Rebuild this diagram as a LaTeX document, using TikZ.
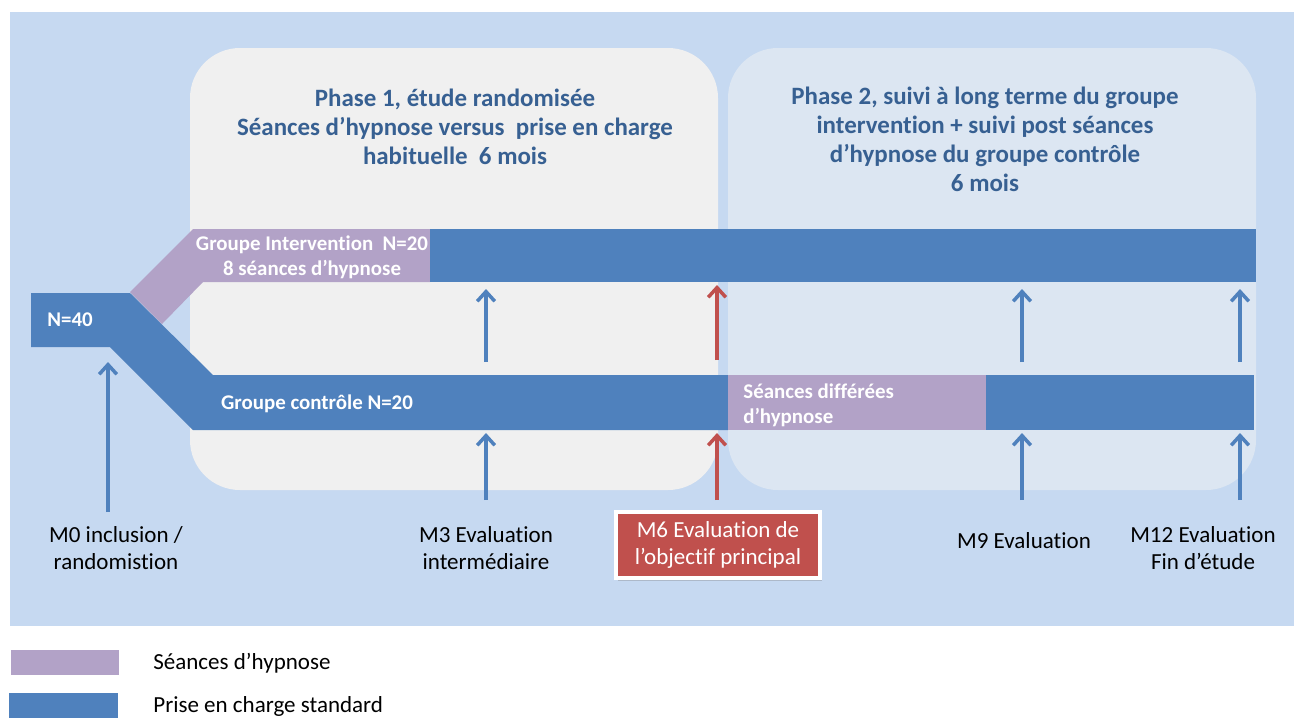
\documentclass[tikz,border=0pt]{standalone}
\usepackage{fontspec}
\setmainfont{Carlito}[Ligatures=NoCommon]
\usetikzlibrary{arrows.meta,shadows}
\definecolor{bgblue}{HTML}{C6D9F1}
\definecolor{phaseone}{HTML}{F0F0F0}
\definecolor{phasetwo}{HTML}{DCE6F2}
\definecolor{stdblue}{HTML}{4F81BD}
\definecolor{hypno}{HTML}{B2A2C7}
\definecolor{evalred}{HTML}{C0504D}
\definecolor{titleblue}{HTML}{376092}

\tikzstyle{phase panel}=[rounded corners=1cm]
\tikzstyle{band text}=[text=white,inner sep=0pt,font=\bfseries\fontsize{11.9}{14.2}\selectfont]
\tikzstyle{phase title}=[text=titleblue,align=center,font=\bfseries\fontsize{14.2}{16.5}\selectfont]
\tikzstyle{visit label}=[align=center,inner sep=0pt,font=\fontsize{13.1}{15.3}\selectfont]
\tikzstyle{visit arrow}=[draw=stdblue,line width=2pt,-{Straight Barb[length=5.5pt,width=10pt]}]
\tikzstyle{main arrow}=[visit arrow,draw=evalred]

\begin{document}
\begin{tikzpicture}[x=0.02cm,y=-0.02cm]
    \useasboundingbox (0,0) rectangle (1294,718);
    \fill[bgblue] (10,12) rectangle (1294,626);
    \fill[phaseone,phase panel] (190,48) rectangle (718,490);
    \fill[phasetwo,phase panel] (728,48) rectangle (1256,490);
    \node[phase title] (phase1) at (455,127)
        {Phase 1, étude randomisée\\Séances d’hypnose versus~ prise en charge\\habituelle~ 6 mois};
    \node[phase title] (phase2) at (985,139)
        {Phase 2, suivi à long terme du groupe\\intervention + suivi post séances\\d’hypnose du groupe contrôle\\6 mois};
    % bands
    \fill[stdblue] (31,293) -- (130,293) -- (213,375) -- (728,375) -- (728,430)
        -- (193,430) -- (110,347) -- (31,347) -- cycle;
    \fill[hypno] (728,375) rectangle (986,430);
    \fill[stdblue] (986,375) rectangle (1254,430);
    \fill[hypno] (130,292) -- (193,229) -- (430,229) -- (430,282) -- (203,282)
        -- (162,324) -- cycle;
    \fill[stdblue] (430,229) rectangle (1256,282);
    \node[band text] (n40) at (70,320) {N=40};
    \node[band text,align=center] (interv) at (312,257) {Groupe Intervention~ N=20\\8 séances d’hypnose};
    \node[band text] (ctrl) at (317,404) {Groupe contrôle N=20};
    \node[band text,align=left,anchor=west] (differ) at (743,405) {Séances différées\\d’hypnose};
    % visits
    \foreach \x/\name in {486/m3, 1022/m9, 1240/m12} {
        \coordinate (\name-a) at (\x,362);
        \coordinate (\name-b) at (\x,289);
        \coordinate (\name-c) at (\x,500);
        \coordinate (\name-d) at (\x,433);
        \path[visit arrow] (\name-a) -- (\name-b);
        \path[visit arrow] (\name-c) -- (\name-d);
    }
    \coordinate (m0-c) at (108,512);
    \coordinate (m0-d) at (108,362);
    \path[visit arrow] (m0-c) -- (m0-d);
    \coordinate (m6-a) at (717,360);
    \coordinate (m6-b) at (717,285);
    \coordinate (m6-c) at (717,500);
    \coordinate (m6-d) at (717,433);
    \path[main arrow] (m6-a) -- (m6-b);
    \path[main arrow] (m6-c) -- (m6-d);
    \node[visit label] (m0) at (116,548) {M0 inclusion /\\randomistion};
    \node[visit label] (m3) at (486,548) {M3 Evaluation\\intermédiaire};
    \node[visit label,fill=evalred,text=white,draw=white,line width=2pt,
        minimum width=4.08cm,minimum height=1.32cm,
        drop shadow={opacity=0.35,shadow xshift=1pt,shadow yshift=-1.5pt}] (m6) at (718,545)
        {M6 Evaluation de\\l’objectif principal};
    \node[visit label] (m9) at (1024,541) {M9 Evaluation};
    \node[visit label] (m12) at (1203,548) {M12 Evaluation\\Fin d’étude};
    % legend
    \fill[hypno] (11,650) rectangle (119,675);
    \fill[stdblue] (9,693) rectangle (118,718);
    \node[visit label,anchor=west] (leg1) at (153,663) {Séances d’hypnose};
    \node[visit label,anchor=west] (leg2) at (153,706) {Prise en charge standard};
\end{tikzpicture}
\end{document}
